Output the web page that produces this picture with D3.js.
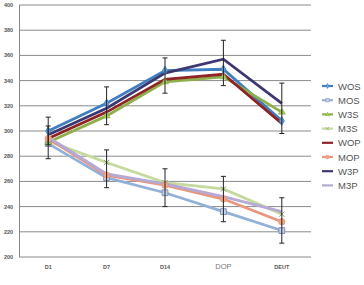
<!DOCTYPE html>
<html>
<head>
<meta charset="utf-8">
<script src="https://cdn.jsdelivr.net/npm/d3@7"></script>
<style>
  body { margin: 0; background: #fff; }
  svg { display: block; font-family: "Liberation Sans", Arial, sans-serif; }
</style>
</head>
<body>
<div id="chart"></div>
<script>
// categories + tick values
var days = ["D1", "D7", "D14", "DOP", "DEUT"];
var yTicks = [200, 220, 240, 260, 280, 300, 320, 340, 360, 380, 400];

// series values
var WOS = [300, 322, 348, 349, 308];
var MOS = [290, 263, 251, 236, 221];
var W3S = [291, 312, 339, 343, 315];
var M3S = [292, 275, 259, 254, 234];
var WOP = [294, 315, 341, 345, 306];
var MOP = [294, 265, 257, 246, 228];
var W3P = [297, 318, 346, 357, 322];
var M3P = [295, 266, 258, 248, 236];

// error bars (centre, half length) for the two groups
var errHiMid = [300, 320, 344, 354, 318];
var errHiHalf = [11, 15, 14, 18, 20];
var errLoMid = [291, 270, 255, 246, 229];
var errLoHalf = [13, 15, 15, 18, 18];

var names = ["WOS", "MOS", "W3S", "M3S", "WOP", "MOP", "W3P", "M3P"];
var values = [WOS, MOS, W3S, M3S, WOP, MOP, W3P, M3P];
var colors = ["#3f7fc0", "#93b1d8", "#8db04a", "#c5da9d", "#8e2424", "#e9967c", "#3d3872", "#b5a9d6"];
var markers = ["diamond", "square", "triangle", "cross", "none", "circle", "none", "none"];

var width = 364, height = 285;
var svg = d3.select("#chart").append("svg")
    .attr("width", width)
    .attr("height", height);

var x = d3.scalePoint().domain(days).range([19, 311]).padding(0.5);
var y = d3.scaleLinear().domain([200, 400]).range([257, 5]);

// grid
svg.append("g")
    .selectAll("line")
    .data(yTicks)
    .enter()
    .append("line")
    .attr("x1", 19).attr("x2", 311)
    .attr("y1", d => y(d)).attr("y2", d => y(d))
    .attr("stroke", "#8a8a8a")
    .attr("stroke-width", 1);

// left axis line
svg.append("line")
    .attr("x1", 19.5).attr("x2", 19.5)
    .attr("y1", y(400)).attr("y2", y(200))
    .attr("stroke", "#8a8a8a");

// y tick labels
svg.append("g")
    .selectAll("text")
    .data(yTicks)
    .enter()
    .append("text")
    .attr("x", 4)
    .attr("y", d => y(d) + 2)
    .attr("font-size", 5.5)
    .attr("font-weight", "bold")
    .attr("fill", "#555")
    .text(d => d);

// x labels
svg.append("g")
    .selectAll("text")
    .data(days)
    .enter()
    .append("text")
    .attr("x", d => x(d))
    .attr("y", 269)
    .attr("text-anchor", "middle")
    .attr("font-size", d => d == "DOP" ? 7.5 : 5.5)
    .attr("font-weight", d => d == "DOP" ? "normal" : "bold")
    .attr("fill", d => d == "DOP" ? "#777" : "#555")
    .text(d => d);

var line = d3.line()
    .x((d, i) => x(days[i]))
    .y(d => y(d));

// lines
values.forEach(function(v, k) {
    svg.append("path")
        .attr("d", line(v))
        .attr("fill", "none")
        .attr("stroke", colors[k])
        .attr("stroke-width", 2.8);
});

function marker(g, type, cx, cy, c, s) {
    s = s || 1;
    var t = "translate(" + cx + "," + cy + ") scale(" + s + ")";
    if (type == "diamond") {
        g.append("path").attr("d", d3.symbol(d3.symbolDiamond, 22)())
            .attr("transform", t)
            .attr("fill", "#6aa0d8").attr("stroke", c).attr("stroke-width", 0.8);
    } else if (type == "square") {
        g.append("path").attr("d", d3.symbol(d3.symbolSquare, 34)())
            .attr("transform", t)
            .attr("fill", "#c6d4ee").attr("stroke", "#6f7fa8").attr("stroke-width", 0.8);
    } else if (type == "triangle") {
        g.append("path").attr("d", d3.symbol(d3.symbolTriangle, 22)())
            .attr("transform", t)
            .attr("fill", "#a8c860").attr("stroke", c).attr("stroke-width", 0.6);
    } else if (type == "cross") {
        g.append("path").attr("d", d3.symbol(d3.symbolX, 20)())
            .attr("transform", t)
            .attr("fill", "none").attr("stroke", "#8e9a80").attr("stroke-width", 1);
    } else if (type == "circle") {
        g.append("path").attr("d", d3.symbol(d3.symbolCircle, 32)())
            .attr("transform", t)
            .attr("fill", "#f0a888").attr("stroke", "#e9967c").attr("stroke-width", 0.8);
    }
}

// markers
var mg = svg.append("g");
values.forEach(function(v, k) {
    v.forEach(function(d, i) {
        marker(mg, markers[k], x(days[i]), y(d), colors[k]);
    });
});

// error bars
function errBars(mid, half) {
    var g = svg.append("g").attr("stroke", "#222").attr("stroke-width", 1);
    mid.forEach(function(m, i) {
        var cx = x(days[i]);
        g.append("line").attr("x1", cx).attr("x2", cx).attr("y1", y(m + half[i])).attr("y2", y(m - half[i]));
        g.append("line").attr("x1", cx - 2.5).attr("x2", cx + 2.5).attr("y1", y(m + half[i])).attr("y2", y(m + half[i]));
        g.append("line").attr("x1", cx - 2.5).attr("x2", cx + 2.5).attr("y1", y(m - half[i])).attr("y2", y(m - half[i]));
    });
}
errBars(errHiMid, errHiHalf);
errBars(errLoMid, errLoHalf);

// legend
var legend = svg.append("g");
names.forEach(function(n, k) {
    var ly = 86 + k * 14.2;
    legend.append("line")
        .attr("x1", 322).attr("x2", 333)
        .attr("y1", ly).attr("y2", ly)
        .attr("stroke", colors[k]).attr("stroke-width", 2.2);
    marker(legend, markers[k], 327.5, ly, colors[k], 0.6);
    legend.append("text")
        .attr("x", 338)
        .attr("y", ly + 3.5)
        .attr("font-size", 9.5)
        .attr("fill", "#555")
        .text(n);
});
</script>
</body>
</html>
